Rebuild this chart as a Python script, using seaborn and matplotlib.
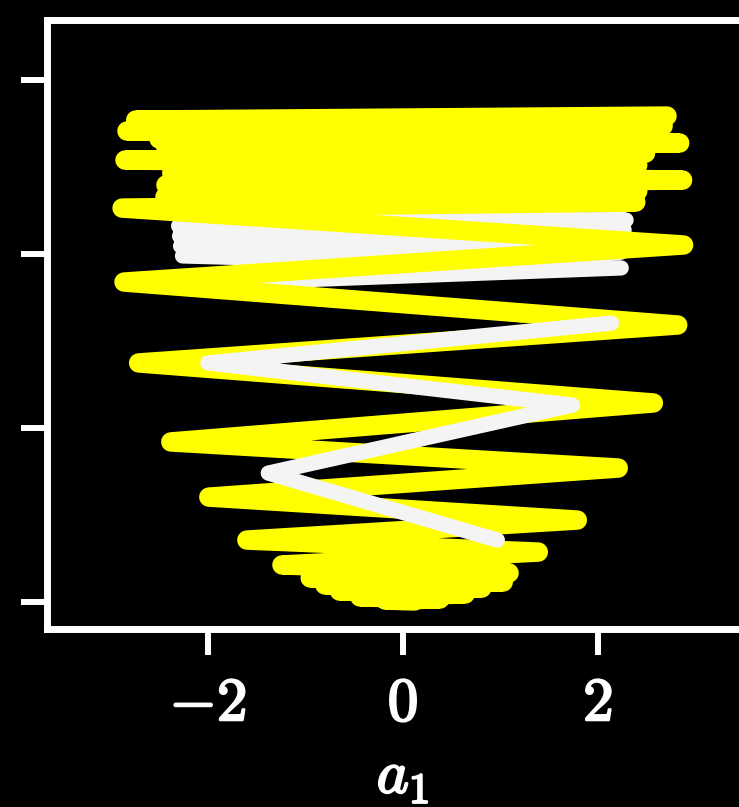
import matplotlib
matplotlib.use("Agg")
import matplotlib.pyplot as plt
import matplotlib.patheffects as pe
import pandas as pd
import seaborn as sns

# Turning points of the two traces: time t (vertical) and coordinate a_1 (horizontal)
yellow_t = [27.93, 27.70, 27.36, 27.07, 26.84, 26.61, 26.38, 26.15, 25.80, 25.40,
            25.11, 24.66, 24.25, 23.97, 23.62, 23.28, 22.99, 22.64, 20.52, 18.39,
            15.92, 13.74, 11.44, 9.20, 7.70, 6.03, 4.71, 3.56, 2.87, 2.13,
            1.67, 1.38, 1.15, 0.98, 0.80, 0.63, 0.46, 0.29, 0.17, 0.11, 0.06]
yellow_a1 = [2.71, -2.74, 2.67, -2.83, 2.47, -2.50, 2.84, -2.43, 2.49, -2.85,
             2.41, -2.37, 2.87, -2.43, 2.41, -2.44, 2.39, -2.88, 2.88, -2.86,
             2.82, -2.71, 2.57, -2.38, 2.21, -1.99, 1.79, -1.60, 1.39, -1.24,
             1.09, -0.95, 1.03, -0.80, 0.81, -0.65, 0.64, -0.44, 0.38, -0.18, 0.12]

white_t = [22.18, 21.95, 21.61, 21.38, 21.03, 20.80, 20.46, 20.11, 19.89, 19.20,
           18.28, 16.03, 13.74, 11.32, 7.41, 3.56]
white_a1 = [-2.30, 2.29, -2.30, 2.27, -2.29, 2.25, -2.28, 2.24, -2.26, 2.24,
            -2.18, 2.14, -2.00, 1.74, -1.38, 0.97]

x_ticks = [-2, 0, 2]
x_tick_labels = ["$-2$", "$0$", "$2$"]
y_ticks = [0, 10, 20, 30]

yellow = pd.DataFrame({"a1": yellow_a1, "t": yellow_t})
white = pd.DataFrame({"a1": white_a1, "t": white_t})
# the early stretch of the white trace sits beneath the yellow one, the rest above it
split = 11
white_early = white.iloc[: split + 1]
white_late = white.iloc[split:]

sns.set_theme(style="ticks")
plt.rcParams.update({
    "mathtext.fontset": "cm",
    "font.family": ["DejaVu Serif"],
    "figure.facecolor": "black",
    "axes.facecolor": "black",
    "axes.edgecolor": "white",
    "xtick.color": "white",
    "ytick.color": "white",
    "text.color": "white",
    "axes.labelcolor": "white",
})

fig = plt.figure(figsize=(7.39, 8.07), dpi=100)
ax = fig.add_axes([0.0636, 0.2206, 0.963, 0.7546])

line_kw = dict(sort=False, estimator=None, legend=False,
               solid_capstyle="round", solid_joinstyle="round")
sns.lineplot(data=white_early, x="a1", y="t", color="#f4f4f4", lw=11, zorder=2, ax=ax, **line_kw)
sns.lineplot(data=yellow, x="a1", y="t", color="#ffff00", lw=14, zorder=3, ax=ax, **line_kw)
sns.lineplot(data=white_late, x="a1", y="t", color="#f4f4f4", lw=11, zorder=4, ax=ax, **line_kw)

heavy = [pe.withStroke(linewidth=1.6, foreground="white")]

ax.set_xlim(-3.65, 3.65)
ax.set_ylim(-1.55, 33.45)
ax.set_xticks(x_ticks)
ax.set_xticklabels(x_tick_labels, fontsize=44)
for lab in ax.get_xticklabels():
    lab.set_path_effects(heavy)
ax.set_yticks(y_ticks)
ax.set_yticklabels([])
ax.tick_params(axis="both", length=19, width=4.3, pad=13)
ax.set_xlabel("$a_1$", fontsize=44, labelpad=9, path_effects=heavy)
ax.set_ylabel("")
for side in ["top", "left", "bottom", "right"]:
    ax.spines[side].set_linewidth(5)
    ax.spines[side].set_color("white")

fig.savefig("out.png", dpi=100, facecolor="black")
